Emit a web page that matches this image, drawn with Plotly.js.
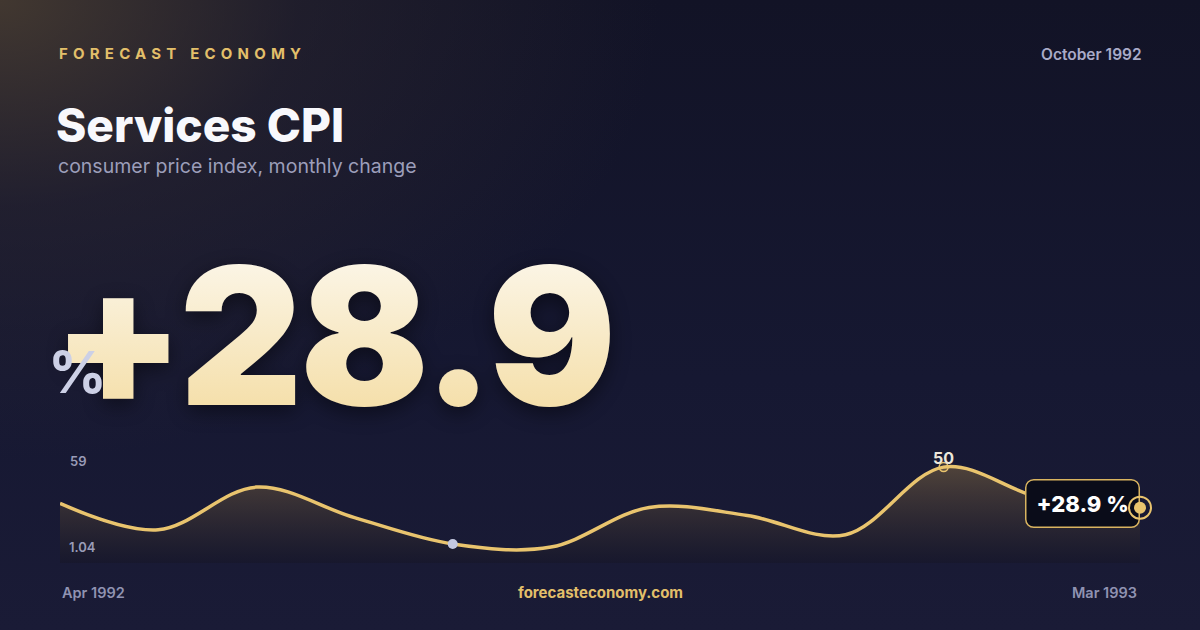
<!DOCTYPE html>
<html>
<head>
<meta charset="utf-8">
<script src="https://cdn.plot.ly/plotly-3.0.1.min.js"></script>
<style>
  html, body { margin: 0; padding: 0; }
  body {
    width: 1200px; height: 630px; overflow: hidden;
    background:
      radial-gradient(ellipse 660px 460px at 0% 0%, rgba(74,62,50,0.85) 0%, rgba(48,42,50,0.45) 45%, rgba(0,0,0,0) 100%),
      linear-gradient(180deg, #121326 0%, #161832 60%, #1a1b36 100%);
  }
  #chart { width: 1200px; height: 630px; }
</style>
</head>
<body>
<div id="chart"></div>
<script>
// monthly services CPI change, Apr 1992 - Mar 1993
var months = ["Apr 1992", "May 1992", "Jun 1992", "Jul 1992", "Aug 1992", "Sep 1992",
              "Oct 1992", "Nov 1992", "Dec 1992", "Jan 1993", "Feb 1993", "Mar 1993"];
var values = [31.1, 17.4, 39.6, 23.7, 10.0, 8.4, 29.0, 24.8, 14.8, 50, 33.8, 28.9];

var rangeTop = 59;
var rangeLabelTop = "59";
var rangeLabelBottom = "1.04";
var lowIndex = 4;   // highlighted point (light dot)
var peakIndex = 9;  // labelled peak
var lastIndex = values.length - 1;

var GOLD = "#e9c46e";

function px(x) { return x / 1200; }
function py(y) { return 1 - y / 630; }

var line = {
  x: months, y: values,
  type: "scatter", mode: "lines",
  line: { color: GOLD, width: 3.5, shape: "spline", smoothing: 1 },
  fill: "tozeroy",
  fillgradient: {
    type: "vertical",
    colorscale: [[0, "rgba(22,22,40,0.6)"], [1, "rgba(92,76,60,0.82)"]]
  },
  hoverinfo: "skip"
};

var lowPoint = {
  x: [months[lowIndex]], y: [values[lowIndex]],
  type: "scatter", mode: "markers",
  marker: { size: 10, color: "#c4c8e0" },
  hoverinfo: "skip"
};

var peakPoint = {
  x: [months[peakIndex]], y: [values[peakIndex]],
  type: "scatter", mode: "markers",
  cliponaxis: false,
  marker: { size: 9, color: "rgba(233,196,110,0.15)", line: { color: GOLD, width: 1.5 } },
  hoverinfo: "skip"
};

var lastRing = {
  x: [months[lastIndex]], y: [values[lastIndex]],
  type: "scatter", mode: "markers",
  cliponaxis: false,
  marker: { size: 22, color: "rgba(0,0,0,0)", line: { color: GOLD, width: 2 } },
  hoverinfo: "skip"
};

var lastDot = {
  x: [months[lastIndex]], y: [values[lastIndex]],
  type: "scatter", mode: "markers",
  cliponaxis: false,
  marker: { size: 12, color: GOLD },
  hoverinfo: "skip"
};

var data = [line, lowPoint, peakPoint, lastRing, lastDot];

var textFont = "Inter, 'Noto Sans', sans-serif";
var bigText = "+" + values[lastIndex].toFixed(1);

var annotations = [
  { text: "FORECAST ECONOMY", x: px(57), y: py(53), xanchor: "left", yanchor: "middle",
    font: { family: textFont, size: 15, color: "#e2bf6a", weight: 700 } },
  { text: "October 1992", x: px(1144), y: py(54), xanchor: "right", yanchor: "middle",
    font: { family: textFont, size: 15.5, color: "#a9abc8", weight: 600 } },
  { text: "Services CPI", x: px(54), y: py(125), xanchor: "left", yanchor: "middle",
    font: { family: textFont, size: 46, color: "#f8f8fc", weight: 800 } },
  { text: "consumer price index, monthly change", x: px(56), y: py(166), xanchor: "left", yanchor: "middle",
    font: { family: textFont, size: 19.5, color: "#9c9eba", weight: 400 } },
  { text: bigText, x: px(50), y: py(335), xanchor: "left", yanchor: "middle",
    font: { family: textFont, size: 191, color: "#f7ecd0", weight: 900 } },
  { text: "%", x: px(46), y: py(372), xanchor: "left", yanchor: "middle",
    font: { family: textFont, size: 58, color: "#ccd0e6", weight: 700 } },
  { text: rangeLabelTop, x: px(68), y: py(461), xanchor: "left", yanchor: "middle",
    font: { family: textFont, size: 13, color: "#9a9cb8", weight: 600 } },
  { text: rangeLabelBottom, x: px(67), y: py(547), xanchor: "left", yanchor: "middle",
    font: { family: textFont, size: 13, color: "#9a9cb8", weight: 600 } },
  { text: months[0], x: px(60), y: py(592), xanchor: "left", yanchor: "middle",
    font: { family: textFont, size: 14.5, color: "#9093b2", weight: 600 } },
  { text: "forecasteconomy.com", x: px(600), y: py(592), xanchor: "center", yanchor: "middle",
    font: { family: textFont, size: 15, color: "#e2bf6a", weight: 700 } },
  { text: months[lastIndex], x: px(1139), y: py(592), xanchor: "right", yanchor: "middle",
    font: { family: textFont, size: 14.5, color: "#9093b2", weight: 600 } },
  { text: String(values[peakIndex]), x: months[peakIndex], y: values[peakIndex],
    xref: "x", yref: "y", xanchor: "center", yanchor: "bottom", yshift: -3, showarrow: false,
    font: { family: textFont, size: 16, color: "#ece6da", weight: 700 } },
  { text: "+" + values[lastIndex].toFixed(1) + " %", x: months[lastIndex], y: values[lastIndex],
    xref: "x", yref: "y", xanchor: "right", yanchor: "middle", xshift: 0, yshift: 4, showarrow: false,
    bgcolor: "#0a0c19", bordercolor: "#d9b460", borderwidth: 1.5, borderpad: 10,
    font: { family: textFont, size: 22, color: "#ffffff", weight: 800 } }
];
annotations.forEach(function (a) {
  if (!a.xref) { a.xref = "paper"; a.yref = "paper"; a.showarrow = false; }
});

var layout = {
  width: 1200, height: 630,
  margin: { l: 0, r: 0, t: 0, b: 0 },
  paper_bgcolor: "rgba(0,0,0,0)",
  plot_bgcolor: "rgba(0,0,0,0)",
  showlegend: false,
  xaxis: { domain: [0.05, 0.95], range: [0, lastIndex], visible: false, fixedrange: true },
  yaxis: { domain: [0.106, 0.286], range: [0, rangeTop], visible: false, fixedrange: true },
  annotations: annotations
};

// keep a text's left edge where it was after changing its letter spacing
function spaceLetters(t, spacing) {
  var before = t.getBBox().x;
  t.style.letterSpacing = spacing;
  var after = t.getBBox().x;
  t.setAttribute("transform", "translate(" + (before - after) + ",0)");
}

Plotly.newPlot("chart", data, layout, { staticPlot: true }).then(function () {
  var gd = document.getElementById("chart");
  var svgs = gd.querySelectorAll(".main-svg");
  var ns = "http://www.w3.org/2000/svg";

  // gradient fill for the big number
  var grad = document.createElementNS(ns, "linearGradient");
  grad.setAttribute("id", "bigGrad");
  grad.setAttribute("x1", "0"); grad.setAttribute("y1", "0");
  grad.setAttribute("x2", "0"); grad.setAttribute("y2", "1");
  [["0", "#fdfbf6"], ["1", "#f3d999"]].forEach(function (s) {
    var stop = document.createElementNS(ns, "stop");
    stop.setAttribute("offset", s[0]);
    stop.setAttribute("stop-color", s[1]);
    grad.appendChild(stop);
  });
  svgs[0].querySelector("defs").appendChild(grad);

  gd.querySelectorAll(".annotation-text").forEach(function (t) {
    if (t.textContent === bigText) {
      t.style.fill = "url(#bigGrad)";
      t.style.filter = "drop-shadow(0px 6px 10px rgba(0,0,0,0.45))";
      spaceLetters(t, "-3px");
    }
    if (t.textContent === "FORECAST ECONOMY") {
      spaceLetters(t, "5.2px");
    }
  });

  // round the corners of the value tag
  gd.querySelectorAll(".annotation").forEach(function (a) {
    var t = a.querySelector(".annotation-text");
    if (t && t.textContent.indexOf(" %") > 0) {
      var bg = a.querySelector(".bg");
      if (bg) { bg.setAttribute("rx", 8); bg.setAttribute("ry", 8); }
    }
  });

  // bring the end point marks above the tag
  try {
    var traces = gd.querySelectorAll(".scatterlayer .trace");
    var layer = traces[0].parentNode;
    var m = layer.getCTM();
    var holder = document.createElementNS(ns, "g");
    holder.setAttribute("transform",
      "matrix(" + [m.a, m.b, m.c, m.d, m.e, m.f].join(",") + ")");
    holder.appendChild(traces[traces.length - 2]);
    holder.appendChild(traces[traces.length - 1]);
    svgs[svgs.length - 1].appendChild(holder);
  } catch (e) {}
});
</script>
</body>
</html>
